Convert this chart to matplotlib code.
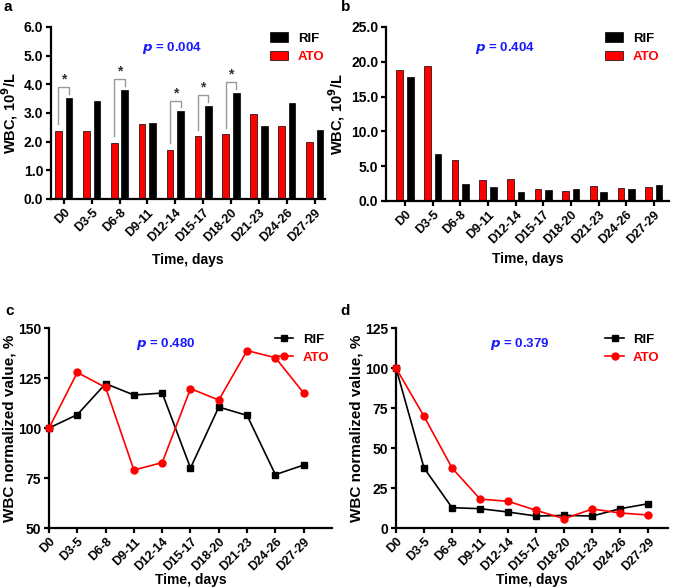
import numpy as np
import matplotlib
matplotlib.use('Agg')
import matplotlib.pyplot as plt

plt.rcParams['font.family'] = ['Liberation Sans', 'DejaVu Sans']
plt.rcParams['font.weight'] = 'bold'
plt.rcParams['axes.labelweight'] = 'bold'

# datos
days = ['D0', 'D3-5', 'D6-8', 'D9-11', 'D12-14', 'D15-17', 'D18-20', 'D21-23', 'D24-26', 'D27-29']

# panel a
a_rif = [3.53, 3.41, 3.80, 2.66, 3.06, 3.24, 3.71, 2.54, 3.35, 2.41]
a_ato = [2.38, 2.38, 1.95, 2.60, 1.71, 2.18, 2.26, 2.98, 2.54, 1.98]
a_sig = [0, 2, 4, 5, 6]  # grupos con asterisco

# panel b
b_rif = [17.8, 6.77, 2.40, 1.97, 1.30, 1.54, 1.73, 1.30, 1.73, 2.35]
b_ato = [18.76, 19.34, 5.85, 3.02, 3.17, 1.73, 1.44, 2.20, 1.87, 2.06]

# panel c
c_rif = [100, 106.7, 122.2, 116.5, 117.5, 80.0, 110.5, 106.3, 76.7, 81.5]
c_ato = [100, 127.8, 120.3, 79.0, 82.7, 119.7, 114.0, 138.7, 135.2, 117.5]

# panel d
d_rif = [100, 37.5, 12.7, 12.1, 10.0, 7.5, 7.9, 7.5, 12.1, 15.2]
d_ato = [100, 69.8, 37.5, 18.1, 16.7, 11.0, 5.8, 11.9, 9.4, 8.1]

p_vals = ['0.004', '0.404', '0.480', '0.379']

fig = plt.figure(figsize=(6.76, 5.88), dpi=100)
ax_a = fig.add_axes([0.0754, 0.6616, 0.4053, 0.2925])
ax_b = fig.add_axes([0.571, 0.6582, 0.4186, 0.296])
ax_c = fig.add_axes([0.0725, 0.102, 0.4186, 0.3401])
ax_d = fig.add_axes([0.5858, 0.102, 0.4024, 0.3401])

x = np.arange(len(days))
w = 0.24


def estilo(ax, xpad):
    ax.spines['top'].set_visible(False)
    ax.spines['right'].set_visible(False)
    ax.spines['left'].set_linewidth(1.6)
    ax.spines['bottom'].set_linewidth(1.6)
    ax.tick_params(width=1.6, length=3.5, pad=2)
    ax.tick_params(axis='y', labelsize=10)
    ax.tick_params(axis='x', labelsize=9)
    ax.set_xticks(x)
    ax.set_xticklabels(days, rotation=45, ha='right', rotation_mode='anchor')
    for lbl in ax.get_xticklabels() + ax.get_yticklabels():
        lbl.set_fontweight('bold')
    ax.set_xlabel('Time, days', fontsize=10, labelpad=xpad)


def leyenda(ax, bx, by):
    leg = ax.legend(loc='upper left', bbox_to_anchor=(bx, by), frameon=False,
                    fontsize=9.5, handlelength=1.4, handleheight=0.75,
                    handletextpad=0.7, labelspacing=0.45, borderaxespad=0)
    leg.get_texts()[0].set_color('black')
    leg.get_texts()[1].set_color('red')


def p_text(ax, px, py, val):
    ax.text(px, py, r'$\boldsymbol{p}$' + ' = ' + val, transform=ax.transAxes,
            color='#1a1aff', fontsize=9.5, fontweight='bold', ha='center', va='center')


# panel a
ax_a.bar(x + 0.19, a_rif, w, color='black', edgecolor='black', linewidth=0.5, label='RIF')
ax_a.bar(x - 0.19, a_ato, w, color='red', edgecolor='black', linewidth=0.5, label='ATO')
ax_a.set_ylim(0, 6)
ax_a.set_yticks(np.arange(0, 6.1, 1))
ax_a.set_yticklabels(['%.1f' % v for v in np.arange(0, 6.1, 1)])
ax_a.set_xlim(-0.46, 9.37)
estilo(ax_a, 6)
ax_a.set_ylabel('WBC, 10$^{\\mathbf{9}}$/L', fontsize=10.5, labelpad=3)
for i in a_sig:
    top = a_rif[i] + 0.37
    ax_a.plot([i - 0.19, i - 0.19, i + 0.19, i + 0.19],
              [a_ato[i] + 0.23, top, top, a_rif[i] + 0.14], color='#999999', lw=1)
    ax_a.text(i, top + 0.02, '*', ha='center', va='bottom', fontsize=10, color='#333333')
leyenda(ax_a, 0.78, 1.0)
p_text(ax_a, 0.443, 0.875, p_vals[0])

# panel b
ax_b.bar(x + 0.19, b_rif, w, color='black', edgecolor='black', linewidth=0.5, label='RIF')
ax_b.bar(x - 0.19, b_ato, w, color='red', edgecolor='black', linewidth=0.5, label='ATO')
ax_b.set_ylim(0, 25)
ax_b.set_yticks(np.arange(0, 25.1, 5))
ax_b.set_yticklabels(['%.1f' % v for v in np.arange(0, 25.1, 5)])
ax_b.set_xlim(-0.69, 9.55)
estilo(ax_b, 4)
ax_b.set_ylabel('WBC, 10$^{\\mathbf{9}}$/L', fontsize=10.5, labelpad=3)
leyenda(ax_b, 0.755, 1.0)
p_text(ax_b, 0.42, 0.88, p_vals[1])

# panel c
ax_c.plot(x, c_rif, color='black', marker='s', markersize=5, lw=1.2, label='RIF', clip_on=False, zorder=3)
ax_c.plot(x, c_ato, color='red', marker='o', markersize=5, lw=1.2, label='ATO', clip_on=False, zorder=3)
ax_c.set_ylim(50, 150)
ax_c.set_yticks([50, 75, 100, 125, 150])
ax_c.set_xlim(0, 10)
estilo(ax_c, 0)
ax_c.set_ylabel('WBC normalized value, %', fontsize=11, labelpad=1)
leyenda(ax_c, 0.78, 1.0)
p_text(ax_c, 0.413, 0.92, p_vals[2])

# panel d
ax_d.plot(x, d_rif, color='black', marker='s', markersize=5, lw=1.2, label='RIF', clip_on=False, zorder=3)
ax_d.plot(x, d_ato, color='red', marker='o', markersize=5, lw=1.2, label='ATO', clip_on=False, zorder=3)
ax_d.set_ylim(0, 125)
ax_d.set_yticks([0, 25, 50, 75, 100, 125])
ax_d.set_xlim(0, 9.7)
estilo(ax_d, 0)
ax_d.set_ylabel('WBC normalized value, %', fontsize=11, labelpad=1)
leyenda(ax_d, 0.75, 1.0)
p_text(ax_d, 0.456, 0.92, p_vals[3])

# letras de los paneles
for letra, (fx, fy) in zip('abcd', [(8, 7), (346, 7), (10, 311), (345, 311)]):
    fig.text(fx / 676, 1 - fy / 588, letra, fontsize=11, fontweight='bold', ha='center', va='center')

plt.savefig('out.png', dpi=100)
